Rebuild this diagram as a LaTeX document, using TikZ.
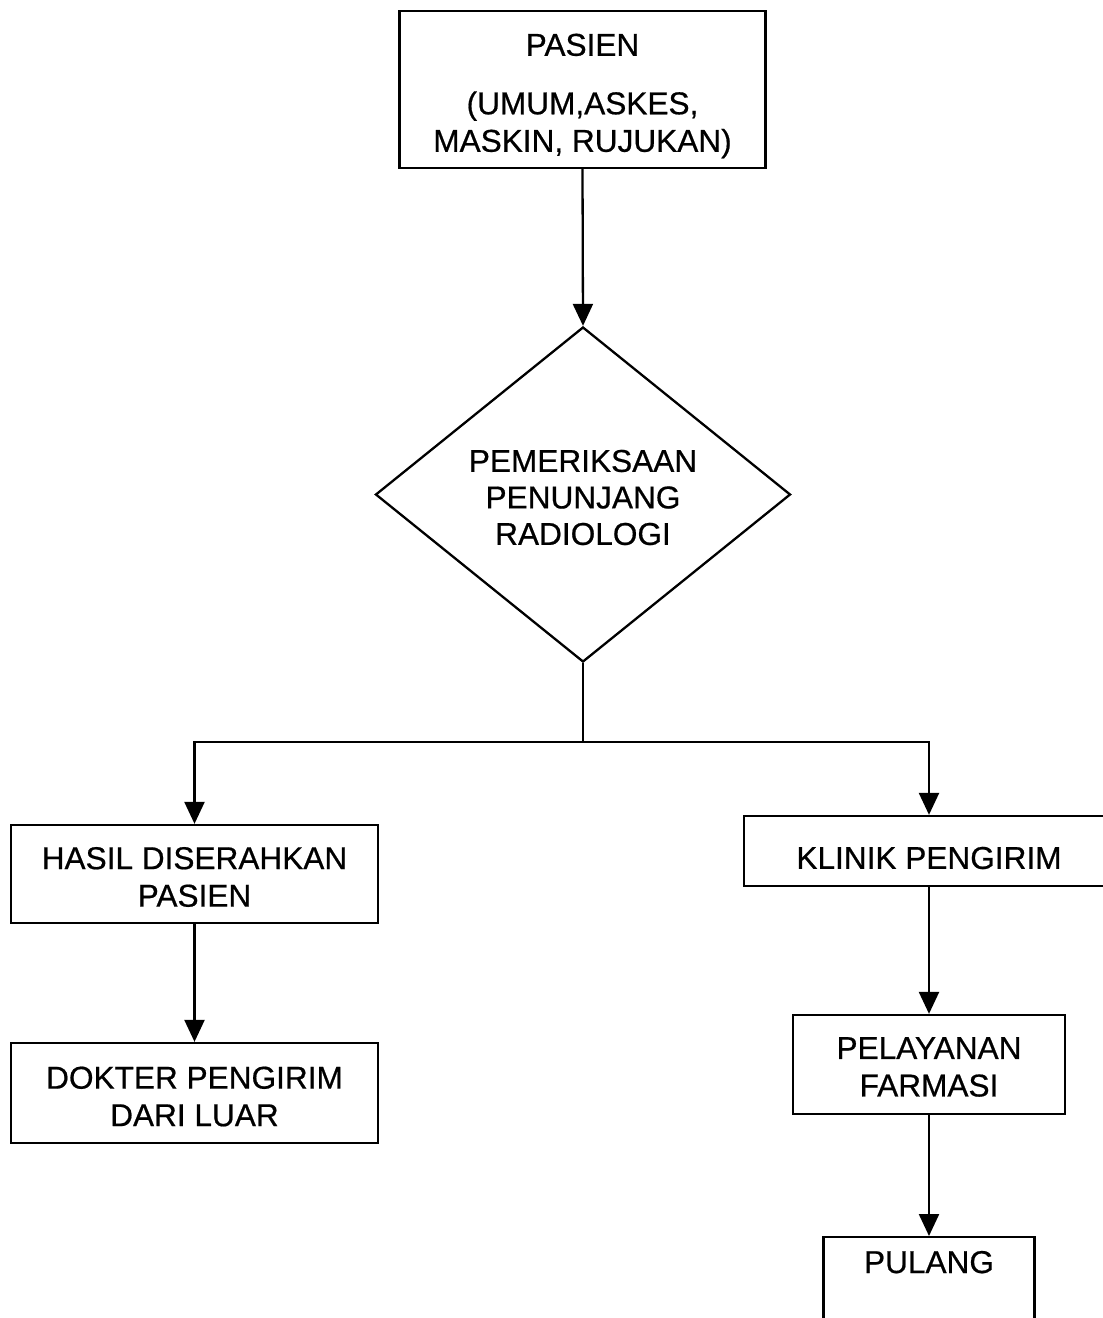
\documentclass[tikz,border=0pt]{standalone}
\usepackage{fontspec}
\setmainfont{Liberation Sans}
\newfontfamily\scanfont{Liberation Sans}[FakeBold=0.6]
\usetikzlibrary{shapes.geometric,arrows.meta}
\begin{document}
\begin{tikzpicture}[x=1pt,y=-1pt,
  box/.style={draw,line width=2.3pt,inner sep=0pt},
  txt/.style={align=center,inner sep=0pt,font=\scanfont\fontsize{31.6}{37.5}\selectfont},
  arr/.style={line width=2.3pt,-{Triangle[length=22pt,width=20pt]}},
  conn/.style={line width=2.3pt}]
\useasboundingbox (0,0) rectangle (1103,1318);
\node[box,minimum width=366pt,minimum height=157pt] (pasien) at (582.5,89.5) {};
\node[txt] (pasienT) at (582.5,96) {PASIEN\\[21pt](UMUM,ASKES,\\MASKIN, RUJUKAN)};
\node[box,shape=diamond,shape aspect=1.24,minimum width=415pt,minimum height=335pt] (diam) at (583,494.5) {};
\node[txt,font=\scanfont\fontsize{31.6}{36.5}\selectfont] (diamT) at (583,497.5) {PEMERIKSAAN\\PENUNJANG\\RADIOLOGI};
\coordinate (j) at (583,742);
\node[box,minimum width=367pt,minimum height=98pt] (hasil) at (194.5,874) {};
\node[txt] (hasilT) at (194.5,877) {HASIL DISERAHKAN\\PASIEN};
\node[box,minimum width=367pt,minimum height=100pt] (dokter) at (194.5,1093) {};
\node[txt] (dokterT) at (194.5,1096.5) {DOKTER PENGIRIM\\DARI LUAR};
\node[box,minimum width=370pt,minimum height=70pt] (klinik) at (929,851) {};
\node[txt] (klinikT) at (929,858) {KLINIK PENGIRIM};
\node[box,minimum width=272pt,minimum height=99pt] (pelayanan) at (929,1064.5) {};
\node[txt] (pelayananT) at (929,1067) {PELAYANAN\\FARMASI};
\node[box,anchor=north,minimum width=211pt,minimum height=100pt] (pulang) at (929,1236) {};
\node[txt,anchor=base] (pulangT) at (929,1273) {PULANG};
\draw[arr] (pasien.south) -- (diam.north);
\draw[conn] (diam.south) -- (j);
\draw[arr] (j) -| (hasil.north);
\draw[arr] (j) -| (klinik.north);
\draw[arr] (hasil.south) -- (dokter.north);
\draw[arr] (klinik.south) -- (pelayanan.north);
\draw[arr] (pelayanan.south) -- (pulang.north);
\end{tikzpicture}
\end{document}
